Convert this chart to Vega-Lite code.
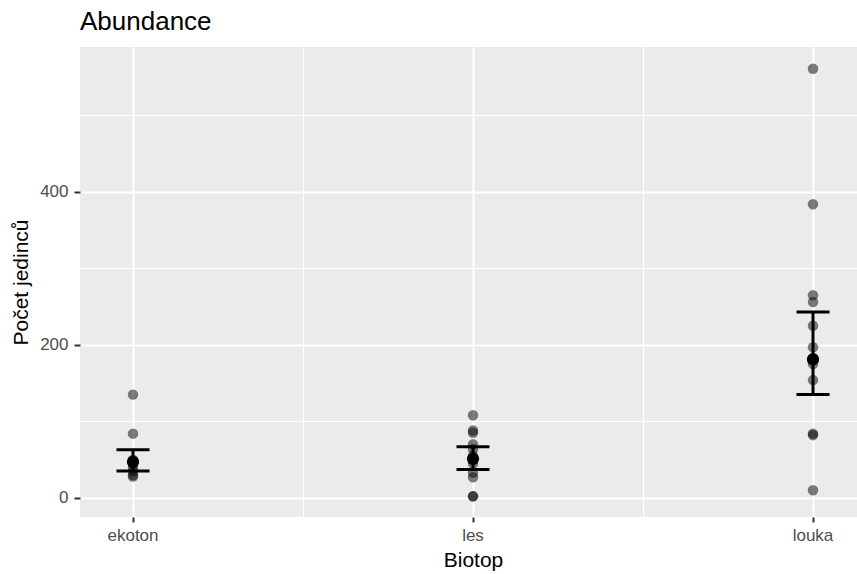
{
  "$schema": "https://vega.github.io/schema/vega-lite/v6.json",
  "width": 777,
  "height": 470,
  "autosize": {"type": "none"},
  "padding": {"left": 80, "top": 47, "right": 0, "bottom": 57},
  "background": "white",
  "title": {"text": "Abundance", "anchor": "start", "frame": "group", "fontSize": 26, "font": "Liberation Sans", "fontWeight": "normal", "color": "black", "offset": 12},
  "config": {"view": {"fill": "#ebebeb", "stroke": null}, "font": "Liberation Sans"},
  "datasets": {
    "raw": [
      {"biotop": "ekoton", "pocet": 135}, {"biotop": "ekoton", "pocet": 84}, {"biotop": "ekoton", "pocet": 50}, {"biotop": "ekoton", "pocet": 45},
      {"biotop": "ekoton", "pocet": 40}, {"biotop": "ekoton", "pocet": 35}, {"biotop": "ekoton", "pocet": 30}, {"biotop": "ekoton", "pocet": 28},
      {"biotop": "les", "pocet": 108}, {"biotop": "les", "pocet": 88}, {"biotop": "les", "pocet": 85}, {"biotop": "les", "pocet": 70},
      {"biotop": "les", "pocet": 64}, {"biotop": "les", "pocet": 55}, {"biotop": "les", "pocet": 50}, {"biotop": "les", "pocet": 45},
      {"biotop": "les", "pocet": 33}, {"biotop": "les", "pocet": 27}, {"biotop": "les", "pocet": 2}, {"biotop": "les", "pocet": 2},
      {"biotop": "louka", "pocet": 561}, {"biotop": "louka", "pocet": 384}, {"biotop": "louka", "pocet": 265}, {"biotop": "louka", "pocet": 256},
      {"biotop": "louka", "pocet": 225}, {"biotop": "louka", "pocet": 197}, {"biotop": "louka", "pocet": 183}, {"biotop": "louka", "pocet": 175},
      {"biotop": "louka", "pocet": 154}, {"biotop": "louka", "pocet": 84}, {"biotop": "louka", "pocet": 82}, {"biotop": "louka", "pocet": 10}
    ],
    "summary": [
      {"biotop": "ekoton", "mean": 47, "lo": 35, "hi": 63},
      {"biotop": "les", "mean": 51, "lo": 37, "hi": 67},
      {"biotop": "louka", "mean": 181, "lo": 135, "hi": 243}
    ]
  },
  "resolve": {"axis": {"x": "independent", "y": "independent"}},
  "layer": [
    {
      "data": {"name": "raw"},
      "mark": {"type": "circle", "color": "black", "opacity": 0.5, "size": 110},
      "encoding": {
        "x": {"field": "biotop", "type": "nominal",
          "scale": {"type": "band", "domain": ["ekoton", "les", "louka"], "range": [-117, 903], "paddingInner": 0, "paddingOuter": 0},
          "axis": {"orient": "top", "bandPosition": 0, "grid": true, "gridColor": "white", "gridWidth": 1, "labels": false, "ticks": false, "domain": false, "title": null}},
        "y": {"field": "pocet", "type": "quantitative",
          "scale": {"domain": [-25, 589.5], "nice": false, "zero": false},
          "axis": {"orient": "right", "values": [100, 300, 500], "grid": true, "gridColor": "white", "gridWidth": 1, "labels": false, "ticks": false, "domain": false, "title": null}}
      }
    },
    {
      "data": {"name": "summary"},
      "mark": {"type": "rule", "color": "black", "strokeWidth": 3, "opacity": 1},
      "encoding": {
        "x": {"field": "biotop", "type": "nominal",
          "axis": {"orient": "bottom", "grid": true, "gridColor": "white", "gridWidth": 2, "domain": false, "tickColor": "#333333", "tickWidth": 2, "tickSize": 5,
            "labelFontSize": 17, "labelColor": "#4d4d4d", "labelAngle": 0, "labelPadding": 5, "title": "Biotop", "titleFontSize": 21, "titleFontWeight": "normal", "titleColor": "black", "titlePadding": 6}},
        "y": {"field": "lo", "type": "quantitative",
          "axis": {"orient": "left", "values": [0, 200, 400], "grid": true, "gridColor": "white", "gridWidth": 2, "domain": false, "tickColor": "#333333", "tickWidth": 2, "tickSize": 6,
            "labelFontSize": 17, "labelColor": "#4d4d4d", "labelPadding": 6, "title": "Počet jedinců", "titleFontSize": 21, "titleFontWeight": "normal", "titleColor": "black", "titlePadding": 8}},
        "y2": {"field": "hi"}
      }
    },
    {
      "data": {"name": "summary"},
      "mark": {"type": "tick", "color": "black", "thickness": 3, "size": 33, "opacity": 1},
      "encoding": {
        "x": {"field": "biotop", "type": "nominal", "axis": null},
        "y": {"field": "lo", "type": "quantitative", "axis": null}
      }
    },
    {
      "data": {"name": "summary"},
      "mark": {"type": "tick", "color": "black", "thickness": 3, "size": 33, "opacity": 1},
      "encoding": {
        "x": {"field": "biotop", "type": "nominal", "axis": null},
        "y": {"field": "hi", "type": "quantitative", "axis": null}
      }
    },
    {
      "data": {"name": "summary"},
      "mark": {"type": "circle", "color": "black", "opacity": 1, "size": 150},
      "encoding": {
        "x": {"field": "biotop", "type": "nominal", "axis": null},
        "y": {"field": "mean", "type": "quantitative", "axis": null}
      }
    }
  ]
}
